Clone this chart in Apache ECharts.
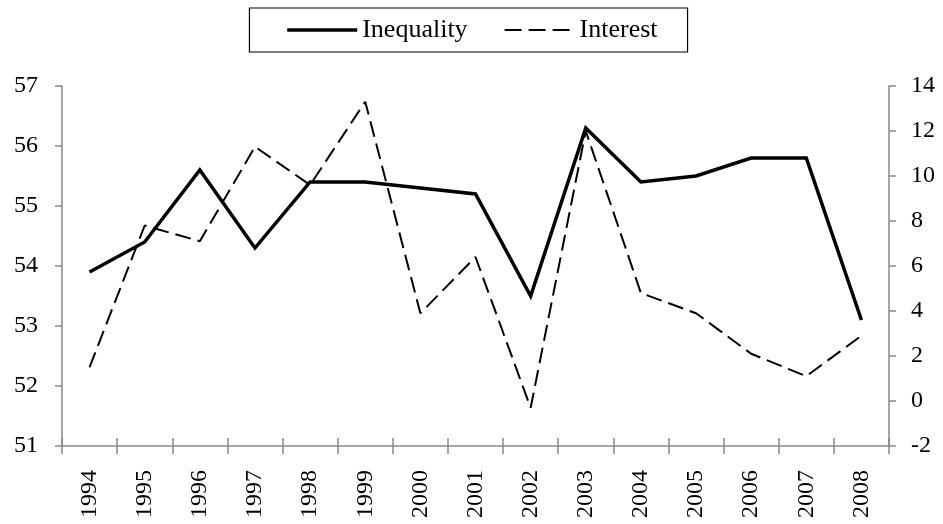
<!DOCTYPE html>
<html>
<head>
<meta charset="utf-8">
<script src="https://cdn.jsdelivr.net/npm/echarts@6/dist/echarts.min.js"></script>
<style>
  html, body { margin: 0; padding: 0; background: #fff; }
  #chart { width: 943px; height: 524px; }
</style>
</head>
<body>
<div id="chart"></div>
<script>
'use strict';

const years = ['1994', '1995', '1996', '1997', '1998', '1999', '2000', '2001',
  '2002', '2003', '2004', '2005', '2006', '2007', '2008'];
const inequality = [53.9, 54.4, 55.6, 54.3, 55.4, 55.4, 55.3, 55.2,
  53.5, 56.3, 55.4, 55.5, 55.8, 55.8, 53.1];
const interest = [1.5, 7.8, 7.1, 11.3, 9.6, 13.3, 3.9, 6.4,
  -0.3, 12.0, 4.8, 3.9, 2.1, 1.1, 2.9];

const font = 'Liberation Serif';
const axisGray = '#898989';

const chart = echarts.init(document.getElementById('chart'));

chart.setOption({
  animation: false,
  textStyle: {fontFamily: font},
  legend: {
    top: 8,
    left: 'center',
    itemWidth: 70,
    itemHeight: 14,
    itemGap: 36,
    padding: [9, 30, 9, 36],
    borderColor: '#000',
    borderWidth: 1.2,
    itemStyle: {opacity: 0},
    textStyle: {fontFamily: font, fontSize: 26, color: '#000'},
    data: [
      {name: 'Inequality', lineStyle: {color: '#000', width: 3.5}},
      {name: 'Interest', lineStyle: {color: '#000', width: 2, type: [17, 7]}}
    ]
  },
  grid: {left: 62, right: 54, top: 86, bottom: 78},
  xAxis: [{
    type: 'category',
    data: years,
    boundaryGap: true,
    axisLine: {onZero: false, lineStyle: {color: axisGray, width: 1.5}},
    axisTick: {show: false},
    axisLabel: {
      rotate: 90, margin: 24, interval: 0,
      fontFamily: font, fontSize: 24, color: '#000'
    }
  }, {
    // crossing tick marks: an axis shifted up into the plot, ticks only
    type: 'category',
    data: years,
    position: 'bottom',
    offset: -8,
    boundaryGap: true,
    axisLine: {show: false, onZero: false},
    axisTick: {show: true, interval: 0, length: 16, lineStyle: {color: axisGray, width: 1.5}},
    axisLabel: {show: false}
  }],
  yAxis: [{
    type: 'value',
    min: 51, max: 57, interval: 1,
    axisLine: {show: true, lineStyle: {color: axisGray, width: 1.5}},
    axisTick: {show: true, length: 7, lineStyle: {color: axisGray, width: 1.5}},
    splitLine: {show: false},
    axisLabel: {margin: 24, fontFamily: font, fontSize: 24, color: '#000'}
  }, {
    type: 'value',
    min: -2, max: 14, interval: 2,
    position: 'right',
    axisLine: {show: true, lineStyle: {color: axisGray, width: 1.5}},
    axisTick: {show: true, length: 7, lineStyle: {color: axisGray, width: 1.5}},
    splitLine: {show: false},
    axisLabel: {margin: 22, fontFamily: font, fontSize: 24, color: '#000'}
  }],
  series: [{
    name: 'Inequality',
    type: 'line',
    xAxisIndex: 0,
    yAxisIndex: 0,
    data: inequality,
    symbol: 'none',
    color: '#000',
    lineStyle: {color: '#000', width: 3.5, join: 'miter'}
  }, {
    name: 'Interest',
    type: 'line',
    xAxisIndex: 0,
    yAxisIndex: 1,
    data: interest,
    symbol: 'none',
    color: '#000',
    lineStyle: {color: '#000', width: 2, type: [16, 7]}
  }]
});
</script>
</body>
</html>
